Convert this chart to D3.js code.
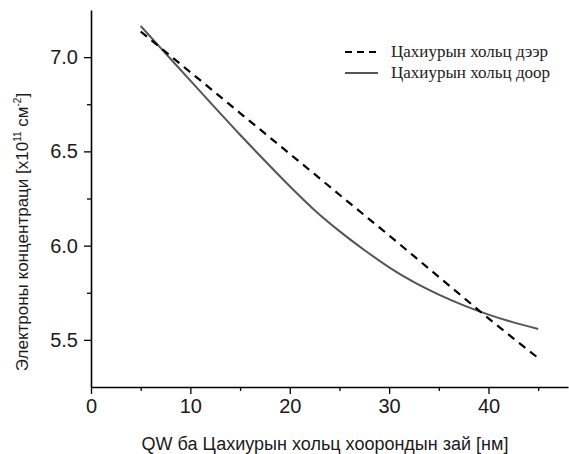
<!DOCTYPE html>
<html>
<head>
<meta charset="utf-8">
<script src="https://cdn.jsdelivr.net/npm/d3@7"></script>
<style>
  body { margin: 0; background: #fff; }
  svg { display: block; }
  .tick text { font-family: "Liberation Sans", Arial, sans-serif; font-size: 20px; fill: #1a1a1a; }
</style>
</head>
<body>
<svg id="canvas" width="569" height="454"></svg>
<script>
// distance between QW and the silicon doping layer [nm]
let distance = [5, 7.5, 10, 12.5, 15, 17.5, 20, 22.5, 25, 27.5, 30, 32.5, 35, 37.5, 40, 42.5, 45];

// doping above
let above = [7.136, 7.028, 6.920, 6.812, 6.703, 6.595, 6.487, 6.379, 6.270, 6.162, 6.054, 5.944, 5.834, 5.724, 5.614, 5.508, 5.404];
// doping below
let below = [7.165, 7.020, 6.875, 6.731, 6.588, 6.450, 6.315, 6.188, 6.077, 5.977, 5.885, 5.806, 5.740, 5.683, 5.634, 5.593, 5.558];

let xTicks = [0, 10, 20, 30, 40];
let yTicks = [5.5, 6.0, 6.5, 7.0];

let seriesNames = ['Цахиурын хольц дээр', 'Цахиурын хольц доор'];

let canvas = d3.select('#canvas');

let xScale = d3.scaleLinear().domain([0, 48]).range([91, 568]);
let yScale = d3.scaleLinear().domain([5.25, 7.25]).range([387, 10]);

let drawAxes = () => {
    // minor ticks first
    canvas.append('g')
        .attr('transform', 'translate(0,387)')
        .call(d3.axisBottom(xScale).tickValues([5, 15, 25, 35, 45]).tickSize(4).tickFormat(''))
        .call(g => g.select('.domain').remove())
        .selectAll('line').attr('stroke', '#000').attr('stroke-width', 1.3);

    canvas.append('g')
        .attr('transform', 'translate(91,0)')
        .call(d3.axisLeft(yScale).tickValues([5.75, 6.25, 6.75]).tickSize(4).tickFormat(''))
        .call(g => g.select('.domain').remove())
        .selectAll('line').attr('stroke', '#000').attr('stroke-width', 1.3);

    let xAxis = canvas.append('g')
        .attr('transform', 'translate(0,387)')
        .call(d3.axisBottom(xScale).tickValues(xTicks).tickSize(7).tickPadding(5).tickSizeOuter(0));
    xAxis.select('.domain').attr('stroke', '#000').attr('stroke-width', 1.6);
    xAxis.selectAll('line').attr('stroke', '#000').attr('stroke-width', 1.3);

    let yAxis = canvas.append('g')
        .attr('transform', 'translate(91,0)')
        .call(d3.axisLeft(yScale).tickValues(yTicks).tickSize(7).tickPadding(6).tickSizeOuter(0).tickFormat(d3.format('.1f')));
    yAxis.select('.domain').attr('stroke', '#000').attr('stroke-width', 1.6);
    yAxis.selectAll('line').attr('stroke', '#000').attr('stroke-width', 1.3);

    canvas.append('text')
        .attr('x', 325)
        .attr('y', 450)
        .attr('text-anchor', 'middle')
        .style('font-family', '"Liberation Sans", Arial, sans-serif')
        .style('font-size', '18px')
        .style('fill', '#1a1a1a')
        .text('QW ба Цахиурын хольц хоорондын зай [нм]');

    let yTitle = canvas.append('text')
        .attr('transform', 'translate(28,232) rotate(-90)')
        .attr('text-anchor', 'middle')
        .style('font-family', '"Liberation Sans", Arial, sans-serif')
        .style('font-size', '17px')
        .style('fill', '#1a1a1a');
    yTitle.append('tspan').text('Электроны концентраци [x10');
    yTitle.append('tspan').attr('dy', -7).style('font-size', '10px').text('11');
    yTitle.append('tspan').attr('dy', 7).text(' см');
    yTitle.append('tspan').attr('dy', -7).style('font-size', '10px').text('-2');
    yTitle.append('tspan').attr('dy', 7).text(']');
}

let drawLines = () => {
    let line = (values) => d3.line()
        .x((d, i) => xScale(distance[i]))
        .y((d) => yScale(d))
        .curve(d3.curveMonotoneX)(values);

    canvas.append('path')
        .attr('d', line(below))
        .attr('fill', 'none')
        .attr('stroke', '#555')
        .attr('stroke-width', 2);

    canvas.append('path')
        .attr('d', line(above))
        .attr('fill', 'none')
        .attr('stroke', '#000')
        .attr('stroke-width', 2.2)
        .attr('stroke-dasharray', '8,6');
}

let drawLegend = () => {
    let legend = canvas.append('g');
    let styles = [
        { stroke: '#000', dash: '7,5' },
        { stroke: '#555', dash: null }
    ];
    seriesNames.forEach((name, i) => {
        let y = 52 + i * 21;
        legend.append('line')
            .attr('x1', 345).attr('x2', 378)
            .attr('y1', y).attr('y2', y)
            .attr('stroke', styles[i].stroke)
            .attr('stroke-width', 2)
            .attr('stroke-dasharray', styles[i].dash);
        legend.append('text')
            .attr('x', 391)
            .attr('y', y + 5)
            .style('font-family', '"Liberation Serif", "Times New Roman", serif')
            .style('font-size', '17px')
            .style('fill', '#222')
            .text(name);
    });
}

drawAxes();
drawLines();
drawLegend();
</script>
</body>
</html>
